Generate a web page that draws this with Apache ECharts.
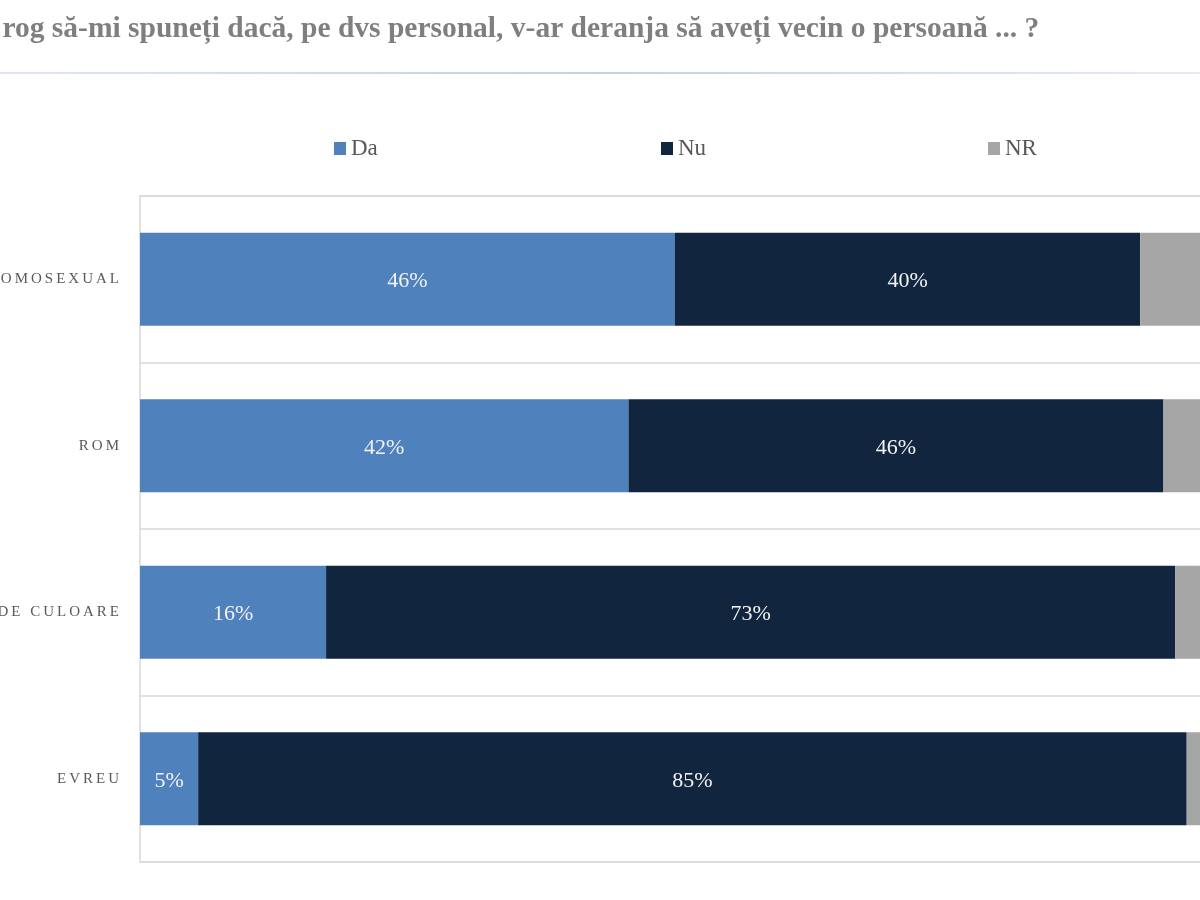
<!DOCTYPE html>
<html>
<head>
<meta charset="utf-8">
<script src="https://cdn.jsdelivr.net/npm/echarts@6/dist/echarts.min.js"></script>
<style>html,body{margin:0;padding:0;background:#fff}#c{width:1200px;height:900px}</style>
</head>
<body>
<div id="c"></div>
<script>
const titleText = 'Vă rog să-mi spuneți dacă, pe dvs personal, v-ar deranja să aveți vecin o persoană ... ?';
const categories = ['HOMOSEXUAL', 'ROM', 'DE CULOARE', 'EVREU'];
const seriesNames = ['Da', 'Nu', 'NR'];
const da = [46, 42, 16, 5];
const nu = [40, 46, 73, 85];
const nr = [14, 12, 11, 10];
const colors = ['#4f81bd', '#12253f', '#a6a6a6'];

const serif = '"Liberation Serif", "DejaVu Serif", serif';
const chart = echarts.init(document.getElementById('c'));
const values = [da, nu, nr];
chart.setOption({
  animation: false,
  title: {
    text: titleText,
    left: -46, top: 9,
    textStyle: { fontFamily: serif, fontWeight: 'bold', fontSize: 29.5, color: '#7f7f7f' }
  },
  graphic: [{
    type: 'line',
    shape: { x1: 0, y1: 73, x2: 1200, y2: 73 },
    style: {
      lineWidth: 2,
      stroke: new echarts.graphic.LinearGradient(0, 0, 1, 0, [
        { offset: 0, color: '#dfe6f0' }, { offset: 0.5, color: '#c3d1e4' }, { offset: 1, color: '#e6ecf3' }
      ])
    }
  }],
  legend: [0, 1, 2].map(i => ({
    data: [seriesNames[i]],
    left: [329, 656, 983][i], top: 132,
    icon: 'rect', itemWidth: 12, itemHeight: 13, itemGap: 6,
    textStyle: { fontFamily: serif, fontSize: 23, color: '#595959' }
  })),
  grid: {
    left: 140, right: -103, top: 196, bottom: 38,
    outerBoundsMode: 'none',
    show: true, borderColor: '#d9d9d9', borderWidth: 1.5
  },
  xAxis: {
    type: 'value', min: 0, max: 100,
    axisLabel: { show: false }, splitLine: { show: false },
    axisLine: { show: false }, axisTick: { show: false }
  },
  yAxis: {
    type: 'category', data: categories, inverse: true,
    axisLine: { show: false }, axisTick: { show: false },
    splitLine: { show: true, lineStyle: { color: '#d9d9d9', width: 1.5 } },
    axisLabel: {
      margin: 21, fontFamily: serif, fontSize: 15, color: '#595959',
      formatter: v => v.split('').join('\u2009')
    }
  },
  series: seriesNames.map((name, i) => ({
    name, type: 'bar', stack: 'total', barWidth: '56%',
    data: values[i],
    itemStyle: { color: colors[i] },
    label: {
      show: true, position: 'inside', formatter: '{c}%', offset: [0, 2],
      fontFamily: serif, fontSize: 22, color: '#f2f2f2'
    }
  }))
});
</script>
</body>
</html>
